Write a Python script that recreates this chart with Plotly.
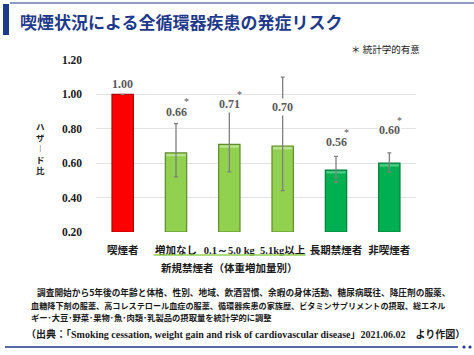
import plotly.graph_objects as go

categories = ["喫煙者", "増加なし", "0.1～5.0 kg", "5.1kg以上", "長期禁煙者", "非喫煙者"]
hazard = [1.00, 0.66, 0.71, 0.70, 0.56, 0.60]
ci_low = [None, 0.52, 0.55, 0.44, 0.49, 0.55]
ci_high = [None, 0.83, 0.90, 1.10, 0.64, 0.66]
significant = [False, True, True, False, True, True]
value_labels = ["1.00", "0.66", "0.71", "0.70", "0.56", "0.60"]
y_ticks = [0.20, 0.40, 0.60, 0.80, 1.00, 1.20]
y_tick_labels = ["0.20", "0.40", "0.60", "0.80", "1.00", "1.20"]

W, H = 474, 355
L, R, T, B = 96, 416, 60, 232  # plot area in px


def px(x):
    return (x - L) / (R - L)


def py(y):
    return (B - y) / (B - T)


fill = ["#FF0000", "#92D050", "#92D050", "#92D050", "#00B050", "#00B050"]
edge = ["#B00000", "#5E8C2A", "#5E8C2A", "#5E8C2A", "#00803A", "#00803A"]
shine = ["#FF0000", "#B9E38F", "#B9E38F", "#B9E38F", "#4CCB82", "#4CCB82"]

plus = [0 if lo is None else hi - v for v, lo, hi in zip(hazard, ci_low, ci_high)]
minus = [0 if lo is None else v - lo for v, lo, hi in zip(hazard, ci_low, ci_high)]

x_idx = list(range(len(categories)))

serif = "Liberation Serif, Times New Roman, serif"
jp = "Noto Sans CJK JP, sans-serif"

fig = go.Figure()
fig.add_trace(go.Bar(
    x=x_idx, y=[h - 0.2 for h in hazard], base=0.2,
    width=0.4,
    marker=dict(color=fill, line=dict(color=edge, width=1.2)),
    hoverinfo="skip",
))
# light highlight strip at top of each bar
fig.add_trace(go.Bar(
    x=x_idx, y=[0.014] * len(hazard), base=[h - 0.02 for h in hazard],
    width=0.36,
    marker=dict(color=shine, line=dict(width=0)),
    hoverinfo="skip",
))
# error bars
fig.add_trace(go.Scatter(
    x=x_idx, y=hazard, mode="markers",
    marker=dict(size=1, color="rgba(0,0,0,0)"),
    error_y=dict(type="data", array=plus, arrayminus=minus, symmetric=False,
                 color="#7F7F7F", thickness=1.3, width=2),
    hoverinfo="skip",
))


def tick_label(c):
    if "以上" in c:
        return f'<span style="font-family:{serif}">{c.replace("以上", "")}</span>以上'
    if c[0].isdigit():
        return f'<span style="font-family:{serif}">{c}</span>'
    return c


tick_text = [tick_label(c) for c in categories]

fig.update_layout(
    width=W, height=H,
    margin=dict(l=L, r=W - R, t=T, b=H - B),
    paper_bgcolor="white", plot_bgcolor="white",
    showlegend=False,
    barmode="overlay",
    xaxis=dict(tickvals=x_idx, ticktext=tick_text, range=[-0.5, 5.5],
               showgrid=False, zeroline=False, showline=False, ticks="",
               tickfont=dict(family=jp, size=10.5, color="#1a1a1a", weight="bold"),
               ticklabelstandoff=10),
    yaxis=dict(range=[0.2, 1.2], tickvals=y_ticks, ticktext=y_tick_labels,
               showgrid=True, gridcolor="#E3E3E3", gridwidth=1, zeroline=False,
               showline=False, ticks="",
               tickfont=dict(family=serif, size=11.5, color="#1a1a1a", weight="bold"),
               ticklabelstandoff=13),
)

# value labels and significance marks
label_shift = [10, 41, 40, 39, 28, 33]
for i, (v, lab, sig, sh) in enumerate(zip(hazard, value_labels, significant, label_shift)):
    fig.add_annotation(x=i, y=v, xref="x", yref="y", text=lab, showarrow=False,
                       xanchor="center", yanchor="middle",
                       yshift=sh, bgcolor="white", borderpad=1,
                       font=dict(family=serif, size=12, color="#595959", weight="bold"))
    if sig:
        fig.add_annotation(x=i, y=v, xref="x", yref="y", text="*", showarrow=False,
                           xanchor="center", yanchor="middle",
                           yshift=sh + 10, xshift=10,
                           font=dict(family=serif, size=10, color="#595959"))


def paper_text(x, y, text, size, xanchor="center", color="#1a1a1a", weight="bold", family=jp):
    fig.add_annotation(x=px(x), y=py(y), xref="paper", yref="paper",
                       xanchor=xanchor, yanchor="middle", text=text, showarrow=False,
                       font=dict(family=family, size=size, color=color, weight=weight))


# y title stacked vertically
paper_text(40, 148, "<br>".join(["ハ", "ザ", "︱", "ド", "比"]), 8.5)

# group underline and label
fig.add_shape(type="line", xref="x", yref="paper", x0=0.58, x1=3.43,
              y0=py(255), y1=py(255), line=dict(color="#92D050", width=1.5))
fig.add_annotation(x=2, y=py(267), xref="x", yref="paper", xanchor="center", yanchor="middle",
                   text="新規禁煙者（体重増加量別）", showarrow=False,
                   font=dict(family=jp, size=10.5, color="#1a1a1a", weight="bold"))

# title
paper_text(18, 21, "喫煙状況による全循環器疾患の発症リスク", 17, xanchor="left", color="#1F3A8A")
fig.add_shape(type="rect", xref="paper", yref="paper", x0=px(3), x1=px(9),
              y0=py(35), y1=py(4), fillcolor="#1F3A8A", line=dict(width=0))
fig.add_shape(type="line", xref="paper", yref="paper", x0=px(10), x1=px(474),
              y0=py(3), y1=py(3), line=dict(color="#1F3A8A", width=1.2))

paper_text(349, 49, "＊ 統計学的有意", 9.5, xanchor="left", weight="normal")

# footnotes
notes = [
    ("調査開始から5年後の年齢と体格、性別、地域、飲酒習慣、余暇の身体活動、糖尿病既往、降圧剤の服薬、", 35, 292, 8.7),
    ("血糖降下剤の服薬、高コレステロール血症の服薬、循環器疾患の家族歴、ビタミンサプリメントの摂取、総エネル", 29, 305, 8.15),
    ("ギー･大豆･野菜･果物･魚･肉類･乳製品の摂取量を統計学的に調整", 29, 317, 8.3),
]
for txt, x0, y0, fs in notes:
    paper_text(x0, y0, txt, fs, xanchor="left")

paper_text(24, 333,
           f'（出典：「<span style="font-family:{serif}">Smoking cessation, weight gain and risk of cardiovascular disease</span>」'
           f'<span style="font-family:{serif}">2021.06.02</span>　より作図）',
           10, xanchor="left")

# bottom rule and dots
fig.add_shape(type="line", xref="paper", yref="paper", x0=px(5), x1=px(458),
              y0=py(347), y1=py(347), line=dict(color="#1F3A8A", width=1.5))
for dx in (464, 470):
    fig.add_shape(type="circle", xref="paper", yref="paper",
                  x0=px(dx - 1.6), x1=px(dx + 1.6), y0=py(348.6), y1=py(345.4),
                  fillcolor="#1F3A8A", line=dict(width=0))

fig.write_html("out.html", config={"displayModeBar": False},
               post_script="document.body.style.margin='0';")
